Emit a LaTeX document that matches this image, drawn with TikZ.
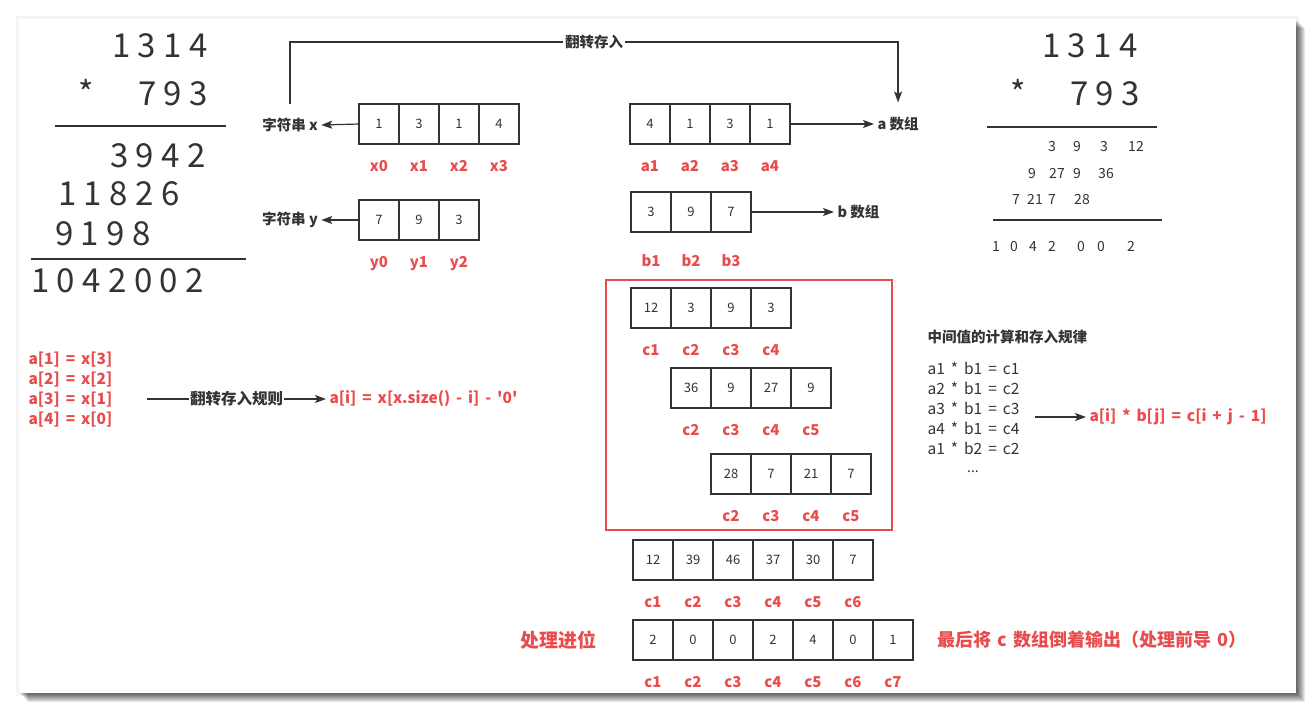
\documentclass[tikz,border=0pt]{standalone}
\usepackage{fontspec}
\setmainfont{Noto Sans CJK SC}
\usepackage{tikz}
\usetikzlibrary{positioning, arrows.meta, calc}
\definecolor{txt}{HTML}{333333}
\definecolor{hired}{HTML}{E84C4C}

\begin{document}
\begin{tikzpicture}[x=1pt, y=-1pt,
	cell/.style={draw=txt, line width=1.2pt, minimum size=40pt, inner sep=0pt, outer sep=0pt, text=txt, font=\fontsize{13}{15}\selectfont},
	idx/.style={text=hired, inner sep=0pt, font=\fontsize{15}{18}\selectfont\bfseries},
	big/.style={text=txt, inner sep=0pt, anchor=base west, font=\fontsize{33}{36}\selectfont},
	small/.style={text=txt, inner sep=0pt, anchor=base, font=\fontsize{14}{17}\selectfont},
	lbl/.style={text=txt, font=\fontsize{14.5}{17}\selectfont\bfseries},
	note/.style={text=hired, align=left, font=\fontsize{15.5}{20}\selectfont\bfseries,
		execute at begin node={\spaceskip=6pt plus 1pt\relax}},
	arr/.style={draw=txt, line width=1.2pt, -{Stealth[length=11pt, width=8pt, inset=2.5pt]}},
	rule/.style={draw=txt, line width=1.3pt}]
	\useasboundingbox (0,0) rectangle (1315,713);
	% card and its shadow
	\foreach \k in {1,...,9}
		\fill[black, opacity=0.09] (19+\k,19+\k) rectangle (1296+\k,693+\k);
	\fill[black, opacity=0.04] (16,16) rectangle (1299,696);
	\fill[white] (19,19) rectangle (1296,693);

	% long multiplication, left
	\node[big] (l1) at (112,57) {1 3 1 4};
	\node[big] (lstar) at (78,105) {*};
	\node[big] (l2) at (138,105) {7 9 3};
	\draw[rule] (55,126) -- (226,126);
	\node[big] (l3) at (110,167) {3 9 4 2};
	\node[big] (l4) at (58,205) {1 1 8 2 6};
	\node[big] (l5) at (55,245) {9 1 9 8};
	\draw[rule] (31,259) -- (246,259);
	\node[big] (l6) at (31,292) {1 0 4 2 0 0 2};

	% long multiplication, right
	\node[big] (r1) at (1042,57) {1 3 1 4};
	\node[big] (rstar) at (1010,105) {*};
	\node[big] (r2) at (1070,105) {7 9 3};
	\draw[rule] (987,127) -- (1157,127);
	\foreach \v/\x [count=\i] in {3/1052,9/1077,3/1104,12/1136}
		\node[small] (m1-\i) at (\x,151) {\v};
	\foreach \v/\x [count=\i] in {9/1032,27/1057,9/1077,36/1106}
		\node[small] (m2-\i) at (\x,178) {\v};
	\foreach \v/\x [count=\i] in {7/1016,21/1035,7/1052,28/1082}
		\node[small] (m3-\i) at (\x,204) {\v};
	\draw[rule] (993,220) -- (1162,220);
	\foreach \v/\x [count=\i] in {1/996,0/1014,4/1033,2/1052,0/1081,0/1101,2/1131}
		\node[small] (m4-\i) at (\x,251) {\v};

	% arrays
	\foreach \v/\t [count=\i] in {1/x0,3/x1,1/x2,4/x3} {
		\node[cell] (x\i) at (339+40*\i,124) {\v};
		\node[idx, below=16pt of x\i] (x\i-l) {\t};
	}
	\foreach \v/\t [count=\i] in {7/y0,9/y1,3/y2} {
		\node[cell] (y\i) at (339+40*\i,220) {\v};
		\node[idx, below=16pt of y\i] (y\i-l) {\t};
	}
	\foreach \v/\t [count=\i] in {4/a1,1/a2,3/a3,1/a4} {
		\node[cell] (a\i) at (610+40*\i,124) {\v};
		\node[idx, below=16pt of a\i] (a\i-l) {\t};
	}
	\foreach \v/\t [count=\i] in {3/b1,9/b2,7/b3} {
		\node[cell] (b\i) at (611+40*\i,212) {\v};
		\node[idx, below=22pt of b\i] (b\i-l) {\t};
	}
	\foreach \v/\t [count=\i] in {12/c1,3/c2,9/c3,3/c4} {
		\node[cell] (pa\i) at (611+40*\i,308) {\v};
		\node[idx, below=16pt of pa\i] (pa\i-l) {\t};
	}
	\foreach \v/\t [count=\i] in {36/c2,9/c3,27/c4,9/c5} {
		\node[cell] (pb\i) at (651+40*\i,388) {\v};
		\node[idx, below=16pt of pb\i] (pb\i-l) {\t};
	}
	\foreach \v/\t [count=\i] in {28/c2,7/c3,21/c4,7/c5} {
		\node[cell] (pc\i) at (691+40*\i,474) {\v};
		\node[idx, below=16pt of pc\i] (pc\i-l) {\t};
	}
	\draw[draw=hired, line width=1.3pt] (606,280) rectangle (892,530);
	\foreach \v/\t [count=\i] in {12/c1,39/c2,46/c3,37/c4,30/c5,7/c6} {
		\node[cell] (sum\i) at (613+40*\i,560) {\v};
		\node[idx, below=16pt of sum\i] (sum\i-l) {\t};
	}
	\foreach \v/\t [count=\i] in {2/c1,0/c2,0/c3,2/c4,4/c5,0/c6,1/c7} {
		\node[cell] (res\i) at (613+40*\i,640) {\v};
		\node[idx, below=16pt of res\i] (res\i-l) {\t};
	}

	% names and arrows
	\node[lbl] (sx) at (290,125) {字符串 x};
	\node[lbl] (sy) at (290,220) {字符串 y};
	\node[lbl, anchor=west] (an) at (874,124) {a 数组};
	\node[lbl, anchor=west] (bn) at (834,212) {b 数组};
	\draw[arr] (x1.west) -- (sx.east);
	\draw[arr] (y1.west) -- (sy.east);
	\draw[arr] (a4.east) -- (an.west);
	\draw[arr] (b3.east) -- (bn.west);
	\coordinate (rev) at (0,42);
	\draw[arr] ([yshift=11pt]sx.north) -- (sx.north |- rev)
		-- node[lbl, fill=white, inner sep=2pt] {翻转存入} (an.north |- rev)
		-- ([yshift=11pt]an.north);

	% reverse rule
	\node[note, anchor=west] (rl) at (25,390) {a[1] = x[3]\\a[2] = x[2]\\a[3] = x[1]\\a[4] = x[0]};
	\coordinate (rs) at (147,399);
	\node[note, anchor=west] (ar) at (326,399) {a[i] = x[x.size() - i] - \textquotesingle 0\textquotesingle};
	\draw[arr] (rs) -- node[lbl, fill=white, inner sep=1pt, font=\fontsize{15.5}{18}\selectfont\bfseries] {翻转存入规则} (ar.west);

	% product rule
	\node[lbl, anchor=west] (mt) at (924,337) {中间值的计算和存入规律};
	\node[anchor=west, align=left, text=txt, font=\fontsize{15.5}{20}\selectfont,
		execute at begin node={\spaceskip=6pt plus 1pt\relax}] (ml) at (924,408)
		{a1 * b1 = c1\\a2 * b1 = c2\\a3 * b1 = c3\\a4 * b1 = c4\\a1 * b2 = c2};
	\node[small] (dots) at (973,472) {...};
	\coordinate (ms) at (1035,417);
	\node[note, anchor=west, font=\fontsize{15.5}{20}\selectfont\bfseries] (fr) at (1086,417) {a[i] * b[j] = c[i + j - 1]};
	\draw[arr] (ms) -- (fr.west);

	% carry and output
	\node[note, font=\fontsize{19}{22}\selectfont\bfseries] (carry) at (558,640) {处理进位};
	\node[note, anchor=west, font=\fontsize{18}{22}\selectfont\bfseries] (out) at (934,640) {最后将 c 数组倒着输出（处理前导 0）};
\end{tikzpicture}
\end{document}
